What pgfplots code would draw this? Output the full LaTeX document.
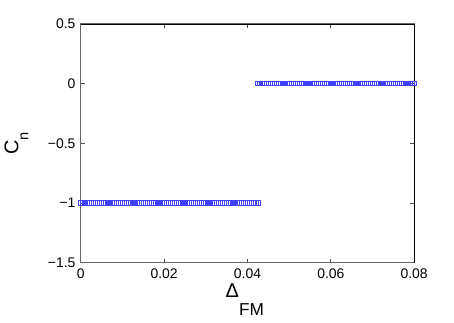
\documentclass[border=0pt]{standalone}
\usepackage{fontspec}
\setmainfont{Liberation Sans}
\usepackage{pgfplots}
\pgfplotsset{compat=1.18}

\begin{document}
\begin{tikzpicture}
\begin{axis}[
    scale only axis,
    width=251.25pt,
    height=180pt,
    xmin=0, xmax=0.08,
    ymin=-1.5, ymax=0.5,
    scaled x ticks=false,
    xtick={0,0.02,0.04,0.06,0.08},
    xticklabels={0,0.02,0.04,0.06,0.08},
    ytick={-1.5,-1,-0.5,0,0.5},
    yticklabels={−1.5,−1,−0.5,0,0.5},
    tick align=inside,
    major tick length=3pt,
    tick style={black!70, line width=0.5pt},
    axis line style={black!60, line width=0.7pt},
    ticklabel style={font=\fontsize{10.5}{12}\selectfont},
    xticklabel style={yshift=-1pt},
    yticklabel style={xshift=-0.5pt},
    xlabel={\fontsize{15}{16}\selectfont Δ\raisebox{-13.5pt}{\fontsize{13}{14}\selectfont FM}},
    ylabel={\fontsize{15}{16}\selectfont C\raisebox{-7.5pt}{\fontsize{11}{12}\selectfont n}},
    xlabel style={at={(rel axis cs:0.5,0)}, anchor=north, yshift=-12.5pt, xshift=-2pt},
    ylabel style={at={(rel axis cs:0,0.5)}, anchor=south, yshift=36pt},
    clip=false,
]
% lower branch
\addplot[only marks, mark=square, mark size=1.7pt,
  mark options={draw=blue!75, line width=0.6pt}]
coordinates {
(0,-1)(0.0005,-1)(0.001,-1)(0.0015,-1)(0.002,-1)(0.0025,-1)(0.003,-1)(0.0035,-1)(0.004,-1)(0.0045,-1)
(0.005,-1)(0.0055,-1)(0.006,-1)(0.0065,-1)(0.007,-1)(0.0075,-1)(0.008,-1)(0.0085,-1)(0.009,-1)(0.0095,-1)
(0.01,-1)(0.0105,-1)(0.011,-1)(0.0115,-1)(0.012,-1)(0.0125,-1)(0.013,-1)(0.0135,-1)(0.014,-1)(0.0145,-1)
(0.015,-1)(0.0155,-1)(0.016,-1)(0.0165,-1)(0.017,-1)(0.0175,-1)(0.018,-1)(0.0185,-1)(0.019,-1)(0.0195,-1)
(0.02,-1)(0.0205,-1)(0.021,-1)(0.0215,-1)(0.022,-1)(0.0225,-1)(0.023,-1)(0.0235,-1)(0.024,-1)(0.0245,-1)
(0.025,-1)(0.0255,-1)(0.026,-1)(0.0265,-1)(0.027,-1)(0.0275,-1)(0.028,-1)(0.0285,-1)(0.029,-1)(0.0295,-1)
(0.03,-1)(0.0305,-1)(0.031,-1)(0.0315,-1)(0.032,-1)(0.0325,-1)(0.033,-1)(0.0335,-1)(0.034,-1)(0.0345,-1)
(0.035,-1)(0.0355,-1)(0.036,-1)(0.0365,-1)(0.037,-1)(0.0375,-1)(0.038,-1)(0.0385,-1)(0.039,-1)(0.0395,-1)
(0.04,-1)(0.0405,-1)(0.041,-1)(0.0415,-1)(0.042,-1)(0.0425,-1)
};
% upper branch
\addplot[only marks, mark=square, mark size=1.7pt,
  mark options={draw=blue!75, line width=0.6pt}]
coordinates {
(0.0425,0)(0.043,0)(0.0435,0)(0.044,0)(0.0445,0)
(0.045,0)(0.0455,0)(0.046,0)(0.0465,0)(0.047,0)(0.0475,0)(0.048,0)(0.0485,0)(0.049,0)(0.0495,0)
(0.05,0)(0.0505,0)(0.051,0)(0.0515,0)(0.052,0)(0.0525,0)(0.053,0)(0.0535,0)(0.054,0)(0.0545,0)
(0.055,0)(0.0555,0)(0.056,0)(0.0565,0)(0.057,0)(0.0575,0)(0.058,0)(0.0585,0)(0.059,0)(0.0595,0)
(0.06,0)(0.0605,0)(0.061,0)(0.0615,0)(0.062,0)(0.0625,0)(0.063,0)(0.0635,0)(0.064,0)(0.0645,0)
(0.065,0)(0.0655,0)(0.066,0)(0.0665,0)(0.067,0)(0.0675,0)(0.068,0)(0.0685,0)(0.069,0)(0.0695,0)
(0.07,0)(0.0705,0)(0.071,0)(0.0715,0)(0.072,0)(0.0725,0)(0.073,0)(0.0735,0)(0.074,0)(0.0745,0)
(0.075,0)(0.0755,0)(0.076,0)(0.0765,0)(0.077,0)(0.0775,0)(0.078,0)(0.0785,0)(0.079,0)(0.0795,0)
(0.08,0)
};
% darker top and right edges, as in the original
\draw[black, line width=0.5pt] (rel axis cs:0,1) -- (rel axis cs:1,1) -- (rel axis cs:1,0);
\coordinate (sw) at (rel axis cs:0,0);
\coordinate (ne) at (rel axis cs:1,1);
\end{axis}
\path ([xshift=-59.25pt,yshift=-45pt]sw) rectangle ([xshift=30pt,yshift=18pt]ne);
\end{tikzpicture}
\end{document}
